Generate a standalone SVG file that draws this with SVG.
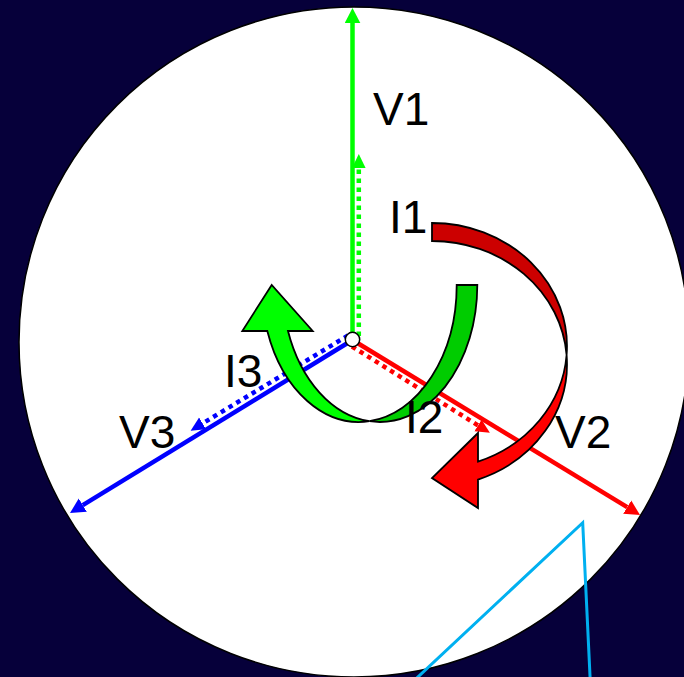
<svg xmlns="http://www.w3.org/2000/svg" width="684" height="677" viewBox="0 0 684 677">
  <style>
    .lbl { font-family: "Liberation Sans", Arial, sans-serif; font-size: 46px; fill: #000000; }
    .solid { stroke-width: 4.5; fill: none; stroke-linecap: butt; }
    .dot { stroke-width: 4.5; fill: none; stroke-dasharray: 4.5 4.5; stroke-linecap: butt; }
    .ribbon { stroke: #000000; stroke-width: 1.8; stroke-linejoin: miter; }
  </style>
  <defs>
    <marker id="ahG" markerUnits="userSpaceOnUse" markerWidth="16" markerHeight="16" viewBox="0 -8 16 16" refX="0" refY="0" orient="auto">
      <path d="M0,-7.8 L15,0 L0,7.8 Z" fill="#00FF00"/>
    </marker>
    <marker id="ahR" markerUnits="userSpaceOnUse" markerWidth="16" markerHeight="16" viewBox="0 -8 16 16" refX="0" refY="0" orient="auto">
      <path d="M0,-7.8 L15,0 L0,7.8 Z" fill="#FF0000"/>
    </marker>
    <marker id="ahB" markerUnits="userSpaceOnUse" markerWidth="16" markerHeight="16" viewBox="0 -8 16 16" refX="0" refY="0" orient="auto">
      <path d="M0,-7.8 L15,0 L0,7.8 Z" fill="#0000FF"/>
    </marker>
    <marker id="ahGs" markerUnits="userSpaceOnUse" markerWidth="16" markerHeight="16" viewBox="0 -8 16 16" refX="0" refY="0" orient="auto">
      <path d="M0,-6.8 L14,0 L0,6.8 Z" fill="#00FF00"/>
    </marker>
    <marker id="ahRs" markerUnits="userSpaceOnUse" markerWidth="16" markerHeight="16" viewBox="0 -8 16 16" refX="0" refY="0" orient="auto">
      <path d="M0,-6.8 L14,0 L0,6.8 Z" fill="#FF0000"/>
    </marker>
    <marker id="ahBs" markerUnits="userSpaceOnUse" markerWidth="16" markerHeight="16" viewBox="0 -8 16 16" refX="0" refY="0" orient="auto">
      <path d="M0,-6.8 L14,0 L0,6.8 Z" fill="#0000FF"/>
    </marker>
  </defs>

  <rect id="background" x="0" y="0" width="684" height="677" fill="#06003A"/>
  <circle id="disc" cx="354" cy="342" r="335" fill="#FFFFFF" stroke="#000000" stroke-width="1.5"/>

  <g id="connectors">
    <line id="V1-line" class="solid" x1="352.5" y1="340" x2="352.5" y2="23" stroke="#00FF00" marker-end="url(#ahG)"/>
    <line id="V2-line" class="solid" x1="352.5" y1="340" x2="627.2" y2="507.2" stroke="#FF0000" marker-end="url(#ahR)"/>
    <line id="V3-line" class="solid" x1="352.5" y1="340" x2="82.8" y2="505.2" stroke="#0000FF" marker-end="url(#ahB)"/>
    <line id="I1-line" class="dot" x1="358.8" y1="336" x2="358.8" y2="168" stroke="#00FF00" marker-end="url(#ahGs)"/>
    <line id="I2-line" class="dot" x1="352" y1="346.5" x2="478" y2="425.4" stroke="#FF0000" marker-end="url(#ahRs)"/>
    <line id="I3-line" class="dot" x1="348" y1="335.5" x2="202.6" y2="423.4" stroke="#0000FF" marker-end="url(#ahBs)"/>
  </g>

  <g id="center-node">
    <circle cx="352.5" cy="339.5" r="7.2" fill="#FFFFFF" stroke="#000000" stroke-width="1.5"/>
  </g>

  <g id="I1-rotation">
    <path class="ribbon" fill="#CC0000" d="M432,223 A135,123 0 0 1 566.6,355 A135,123 0 0 0 432,241 Z"/>
    <path class="ribbon" fill="#FF0000" d="M566.6,355 A135,123 0 0 1 478,461.6 L478,433 L432,478 L478,508 L478,479.6 A135,123 0 0 0 566.6,355 Z"/>
  </g>

  <g id="I3-rotation">
    <path class="ribbon" fill="#00CC00" d="M456.7,285 A97.5,137 0 0 1 369.5,421.2 A97.5,137 0 0 0 477.3,285 Z"/>
    <path class="ribbon" fill="#00FF00" d="M369.5,421.2 A97.5,137 0 0 1 267.3,331 L242.3,331 L271.7,285 L312.7,331 L288,331 A97.5,137 0 0 0 369.5,421.2 Z"/>
  </g>

  <g id="labels">
    <text id="V1" class="lbl" x="373" y="125">V1</text>
    <text id="I1" class="lbl" x="389" y="233">I1</text>
    <text id="I3" class="lbl" x="224" y="387">I3</text>
    <text id="V3" class="lbl" x="119" y="448">V3</text>
    <text id="I2" class="lbl" x="405" y="433">I2</text>
    <text id="V2" class="lbl" x="555" y="448">V2</text>
  </g>

  <g id="pointer">
    <polyline points="414.7,680 582.7,522.7 590.2,680" fill="none" stroke="#00B0F0" stroke-width="3" stroke-linejoin="miter"/>
  </g>
</svg>
